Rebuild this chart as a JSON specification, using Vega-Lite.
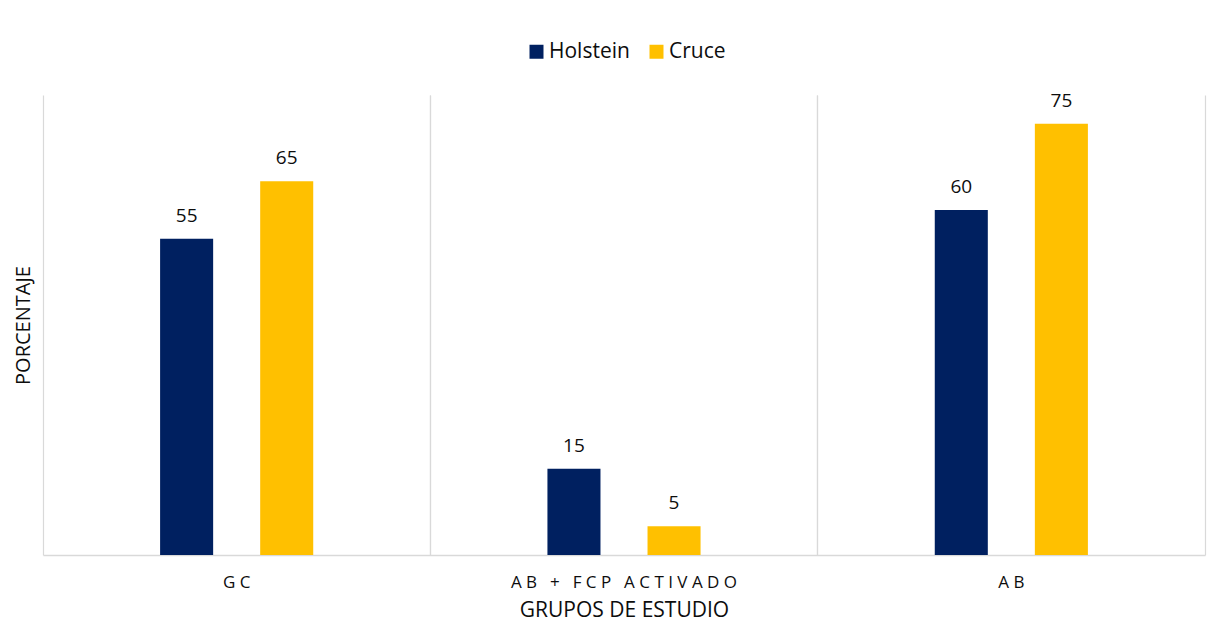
{
  "$schema": "https://vega.github.io/schema/vega-lite/v6.json",
  "width": 1162,
  "height": 460,
  "autosize": {"type": "none"},
  "padding": {"left": 43, "top": 95, "right": 20, "bottom": 70},
  "background": "white",
  "config": {
    "font": "Open Sans",
    "view": {"stroke": null},
    "axis": {"labelColor": "#0d0d0d", "titleColor": "#0d0d0d", "titleFontWeight": "normal"},
    "legend": {"labelColor": "#0d0d0d"}
  },
  "data": {
    "values": [
      {"grupo": "GC", "raza": "Holstein", "porcentaje": 55},
      {"grupo": "GC", "raza": "Cruce", "porcentaje": 65},
      {"grupo": "AB + FCP ACTIVADO", "raza": "Holstein", "porcentaje": 15},
      {"grupo": "AB + FCP ACTIVADO", "raza": "Cruce", "porcentaje": 5},
      {"grupo": "AB", "raza": "Holstein", "porcentaje": 60},
      {"grupo": "AB", "raza": "Cruce", "porcentaje": 75}
    ]
  },
  "encoding": {
    "x": {
      "field": "grupo",
      "type": "nominal",
      "sort": ["GC", "AB + FCP ACTIVADO", "AB"],
      "scale": {"paddingInner": 0, "paddingOuter": 0}
    },
    "xOffset": {
      "field": "raza",
      "type": "nominal",
      "scale": {"domain": ["_izq", "Holstein", "Cruce", "_der"], "paddingInner": 0.47, "paddingOuter": 0.17}
    },
    "y": {
      "field": "porcentaje",
      "type": "quantitative",
      "scale": {"domain": [0, 80]},
      "axis": {
        "title": "PORCENTAJE",
        "domain": false,
        "ticks": false,
        "labels": false,
        "grid": false,
        "titleFontSize": 20,
        "titlePadding": 10
      }
    }
  },
  "layer": [
    {
      "mark": {"type": "bar"},
      "encoding": {
        "x": {
          "field": "grupo",
          "type": "nominal",
          "sort": ["GC", "AB + FCP ACTIVADO", "AB"],
          "scale": {"paddingInner": 0, "paddingOuter": 0},
          "axis": {
            "title": "GRUPOS DE ESTUDIO",
            "titleFontSize": 21,
            "titlePadding": 9,
            "labelAngle": 0,
            "labelFontSize": 17,
            "labelPadding": 19,
            "labelLimit": 0,
            "labelExpr": "replace(replace(datum.label, regexp(' ', 'g'), '\u2002'), regexp('([^\u2002])(?!$)', 'g'), '$1 ')",
            "ticks": false,
            "bandPosition": 0,
            "grid": true,
            "gridColor": "#d9d9d9",
            "gridWidth": 1.2,
            "domainColor": "#d9d9d9",
            "domainWidth": 1.5
          }
        },
        "color": {
          "field": "raza",
          "type": "nominal",
          "scale": {"domain": ["Holstein", "Cruce"], "range": ["#002060", "#FFC000"]},
          "legend": {
            "title": null,
            "orient": "none",
            "direction": "horizontal",
            "legendX": 483,
            "legendY": -54,
            "symbolType": "square",
            "symbolSize": 196,
            "symbolStrokeWidth": 0,
            "labelFontSize": 21,
            "labelOffset": 2,
            "columnPadding": 16
          }
        }
      }
    },
    {
      "mark": {"type": "text", "fontSize": 19, "dy": -17, "baseline": "alphabetic", "color": "#0d0d0d"},
      "encoding": {
        "x": {
          "field": "grupo",
          "type": "nominal",
          "sort": ["GC", "AB + FCP ACTIVADO", "AB"],
          "scale": {"paddingInner": 0, "paddingOuter": 0},
          "axis": {
            "title": null,
            "labels": false,
            "ticks": false,
            "domain": false,
            "bandPosition": 1,
            "grid": true,
            "gridColor": "#d9d9d9",
            "gridWidth": 1.2
          }
        },
        "text": {"field": "porcentaje", "type": "quantitative"}
      }
    }
  ],
  "resolve": {"axis": {"x": "independent"}}
}
